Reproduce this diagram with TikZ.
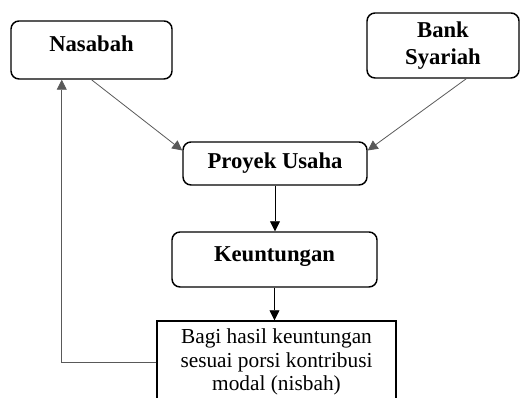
\documentclass[tikz,border=0pt]{standalone}
\usepackage{fontspec}
\setmainfont{Liberation Serif}
\usetikzlibrary{arrows.meta}

\begin{document}
\begin{tikzpicture}[
  x=0.75pt,
  y=-0.75pt,
  every node/.style={font=\fontsize{17}{20}\selectfont\bfseries, align=center},
  box/.style={draw, line width=1.1pt, rounded corners=6pt, inner sep=0pt},
  plainbox/.style={draw, line width=1.1pt, inner sep=0pt, font=\fontsize{16}{17.5}\selectfont},
  flow/.style={-{Triangle[length=7.5pt,width=7.5pt]}, line width=0.6pt},
  link/.style={flow, draw=black!65}
]
  % Frame: 525 x 398 px, y grows downwards.
  \useasboundingbox (0,0) rectangle (525,398);
  \clip (0,0) rectangle (525,398);

  % Parties.
  \node[box, minimum width=120.75pt, minimum height=43.5pt, text depth=9pt] (nas) at (91.5,50) {Nasabah};
  \node[box, minimum width=114pt, minimum height=48.75pt] (bank) at (443,45.5) {Bank\\Syariah};

  % Flow down the middle.
  \node[box, minimum width=138pt, minimum height=32.25pt] (proj) at (275,163.5) {Proyek Usaha};
  \node[box, minimum width=153.75pt, minimum height=41.25pt, text depth=8pt] (keu) at (274.5,259.5) {Keuntungan};
  \node[plainbox, minimum width=179.25pt, minimum height=61.5pt] (bagi) at (276.5,362)
    {Bagi hasil keuntungan\\sesuai porsi kontribusi\\modal (nisbah)};

  % Connectors.
  \draw[link] (nas.south) -- (proj.172);
  \draw[link] (bank.-55) -- (proj.8);
  \draw[flow] (proj.south) -- (proj.south |- keu.north);
  \draw[flow] (keu.south) -- (keu.south |- bagi.north);
  \draw[link] (bagi.west) -| (nas.-135);
\end{tikzpicture}
\end{document}
